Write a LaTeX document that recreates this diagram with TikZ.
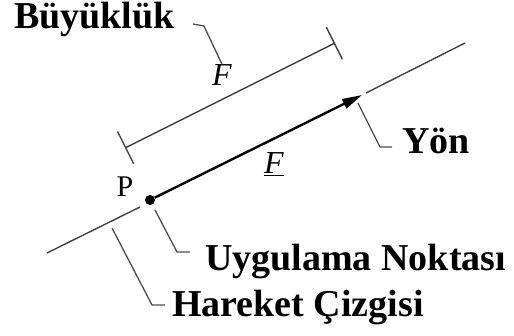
\documentclass[tikz,border=0pt]{standalone}
\usepackage{fontspec}
\setmainfont{Liberation Serif}
\usetikzlibrary{arrows.meta,calc}

\begin{document}
\begin{tikzpicture}[x=1pt,y=-1pt,
  thinline/.style={draw=black!75,line width=1.4pt},
  vec/.style={draw=black,line width=2.4pt,-{Triangle[length=20pt,width=10pt]}},
  dim/.style={draw=black!75,line width=1.4pt,{Bar[width=36pt]}-{Bar[width=36pt]}},
  leader/.style={draw=black!70,line width=1.3pt},
  lbl/.style={font=\fontsize{38}{42}\selectfont\bfseries,anchor=base west,inner sep=0pt},
  sym/.style={font=\fontsize{30}{34}\selectfont,inner sep=0pt},
]
\useasboundingbox (0,0) rectangle (514,336);
% line of action
\coordinate (la0) at (47,253);
\coordinate (la1) at (140,207);
\coordinate (la2) at (366,93);
\coordinate (la3) at (465,43);
\draw[thinline] (la0) -- (la1);
\draw[thinline] (la2) -- (la3);
% force vector
\node[circle,fill,inner sep=0pt,minimum size=10pt] (pt) at (150,200) {};
\coordinate (tip) at (362,95);
\draw[vec] (pt) -- (tip);
\node[sym] (P) at (125,187) {P};
\node[sym,font=\fontsize{32}{36}\selectfont] (Fvec) at (274,164) {\underline{\textit{F}}};
% magnitude
\coordinate (d0) at (125,148);
\coordinate (d1) at (335,43);
\draw[dim] (d0) -- (d1);
\node[sym,font=\fontsize{32}{36}\selectfont] (Fmag) at (222,75) {\textit{F}};
% labels
\node[lbl] (buyukluk) at (14,29) {Büyüklük};
\node[lbl] (yon) at (402,154) {Yön};
\node[lbl] (uygulama) at (205,271) {Uygulama Noktası};
\node[lbl] (hareket) at (172,317) {Hareket Çizgisi};
% leaders
\coordinate (bk) at (204,26);
\coordinate (yk) at (380,147);
\coordinate (uk) at (177,252);
\coordinate (hk) at (152,305);
\draw[leader] (Fmag.north) -- (bk) -- ++(-11,-2);
\draw[leader] ($(tip)+(-4,8)$) -- (yk) -- ++(12,0);
\draw[leader] ($(pt)+(5,10)$) -- (uk) -- ++(13,0);
\draw[leader] (112,228) -- (hk) -- ++(13,0);
\end{tikzpicture}
\end{document}
